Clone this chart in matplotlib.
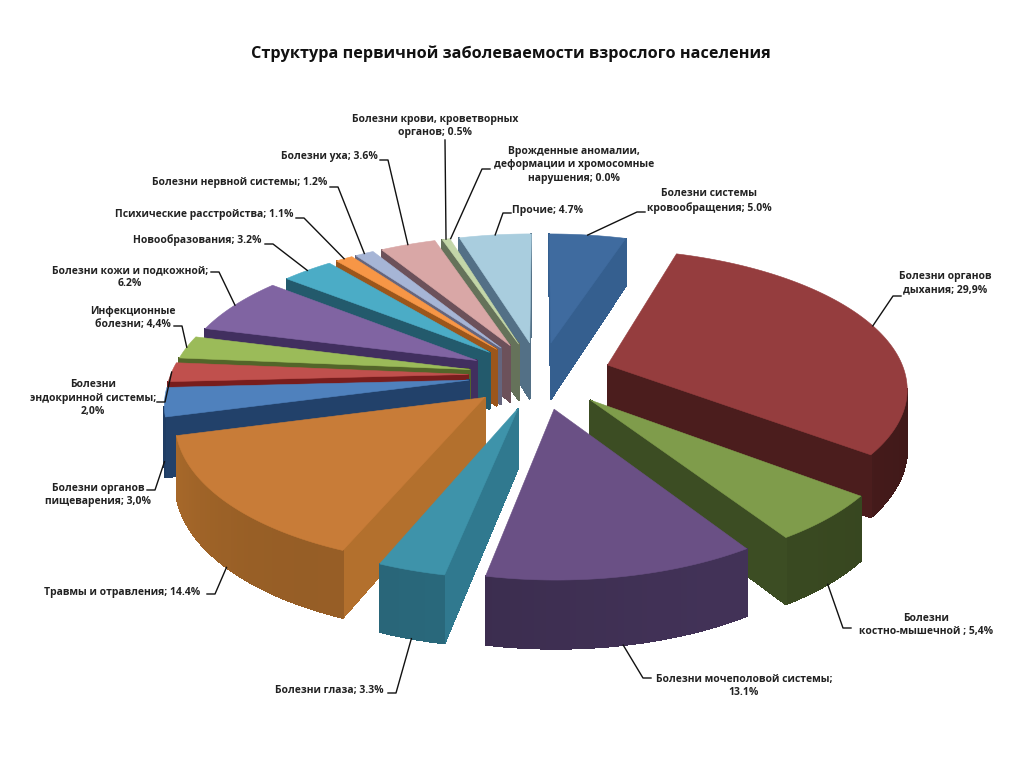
#!/usr/bin/env python3
"""Exploded perspective pie: structure of primary morbidity in adults."""
import numpy as np
import matplotlib

matplotlib.use("Agg")
import matplotlib.pyplot as plt
from matplotlib.patches import Polygon

plt.rcParams["font.family"] = ["Open Sans", "DejaVu Sans"]

# slice sizes in drawing order, clockwise from 12 o'clock
# (the infection slice is drawn far thinner than its 4,4% label, so 2.4 here)
shares = [5.0, 29.9, 5.4, 13.1, 3.3, 14.4, 3.0, 2.0, 2.4, 6.2, 3.2, 1.1, 1.2, 3.6, 0.5, 0.0, 4.7]
top_colors = ["#3F6B9F", "#953D3E", "#7F9C4B", "#6A5085", "#3E93AA", "#C87C38", "#4F81BD", "#C0504D",
              "#9BBB59", "#8064A2", "#4BACC6", "#F79646", "#A6B5D6", "#D9A7A6", "#C3D6A8", "#FFFFFF", "#A9CDDE"]
wall_colors = ["#2F5580", "#431A1A", "#36451F", "#3E2F52", "#2B6C80", "#A06428", "#1E3A5F", "#6B1A1A",
               "#4A5A25", "#3A2A55", "#1F5060", "#8A4D18", "#5A5A70", "#604850", "#5A6650", "#FFFFFF", "#4A6478"]

labels = ["Болезни системы\nкровообращения; 5.0%", "Болезни органов\nдыхания; 29,9%",
          "Болезни\nкостно-мышечной ; 5,4%", "Болезни мочеполовой системы;\n13.1%",
          "Болезни глаза; 3.3%", "Травмы и отравления; 14.4%",
          "Болезни органов\nпищеварения; 3,0%", "Болезни\nэндокринной системы;\n2,0%",
          "Инфекционные\nболезни; 4,4%", "Болезни кожи и подкожной;\n6.2%",
          "Новообразования; 3.2%", "Психические расстройства; 1.1%",
          "Болезни нервной системы; 1.2%", "Болезни уха; 3.6%",
          "Болезни крови, кроветворных\nорганов; 0.5%",
          "Врожденные аномалии,\nдеформации и хромосомные\nнарушения; 0.0%", "Прочие; 4.7%"]
# label centre x, y and the elbow where its leader line starts
label_pos = [(709, 201), (945, 283), (926, 625), (744, 686), (329, 691), (122, 592), (98, 495), (93, 398),
             (133, 318), (130, 277), (197, 240), (204, 215), (240, 183), (329, 156), (435, 126), (574, 165), (548, 210)]
elbows = [(637, 212), (893, 296), (843, 628), (643, 678), (396, 693), (215, 594), (155, 490), (165, 402),
          (182, 326), (219, 272), (273, 244), (304, 218), (338, 187), (388, 160), (445, 140), (482, 169), (503, 213)]
# 1 = leader ends at the foot of the outer wall
anchor_low = [0, 0, 1, 1, 1, 1, 1, 0, 0, 0, 0, 0, 0, 0, 0, 0, 0]

CX, CY = 540, 375
RX, RY = 298, 140
EXPLODE = 0.24
PERSP = 0.15
DEPTH = 58


def project(x, y, down=0.0):
    s = 1 + PERSP * y
    return CX + RX * x * s, CY + RY * y * s + down * DEPTH * s


def warp(a):
    # the original's 3D camera pulls the lower-left slices round a little
    lo, hi = np.radians(140), np.radians(320)
    return a - np.radians(4.0) * np.sin(np.pi * (np.clip(a, lo, hi) - lo) / (hi - lo)) ** 2


def shade(color, f):
    rgb = np.array(matplotlib.colors.to_rgb(color))
    return tuple(np.clip(rgb * f, 0, 1))


cum = warp(np.concatenate([[0], np.cumsum(shares)]) / sum(shares) * 2 * np.pi)
fig = plt.figure(figsize=(10.24, 7.68), dpi=100)
ax = fig.add_axes([0, 0, 1, 1])
ax.set_xlim(0, 1024)
ax.set_ylim(768, 0)
ax.axis("off")

order = sorted(range(len(shares)), key=lambda i: -np.cos((cum[i] + cum[i + 1]) / 2))
anchors = {}
for i in order:
    a0, a1, mid = cum[i], cum[i + 1], (cum[i] + cum[i + 1]) / 2
    ox, oy = EXPLODE * np.sin(mid), -EXPLODE * np.cos(mid)
    anchors[i] = project(ox + np.sin(mid), oy - np.cos(mid), anchor_low[i])
    if shares[i] == 0:
        continue
    th = np.linspace(a0, a1, max(2, int((a1 - a0) * 60)))
    xs = np.concatenate([[ox], ox + np.sin(th)])
    ys = np.concatenate([[oy], oy - np.cos(th)])
    top = np.array([project(x, y) for x, y in zip(xs, ys)])
    low = np.array([project(x, y, 1) for x, y in zip(xs, ys)])
    n = len(top)
    for j in range(n):
        k = (j + 1) % n
        quad = np.array([top[j], top[k], low[k], low[j]])
        area = np.sum(quad[:, 0] * np.roll(quad[:, 1], -1) - np.roll(quad[:, 0], -1) * quad[:, 1])
        if area >= 0:
            continue
        radial = j == 0 or j == n - 1
        if radial:
            col = shade(wall_colors[i], 1.12)
        else:
            t = (th[j - 1] + th[j]) / 2
            col = shade(wall_colors[i], 1.0 + 0.06 * np.sin(3 * t))
        ax.add_patch(Polygon(quad, closed=True, fc=col, ec=col, lw=0.6, antialiased=False, zorder=1))
    ax.add_patch(Polygon(top, closed=True, fc=top_colors[i], ec=top_colors[i], lw=0.4, zorder=1))

for i, txt in enumerate(labels):
    ax.text(*label_pos[i], txt, ha="center", va="center", fontsize=7.5, fontweight="bold",
            color="#222222", linespacing=1.3, zorder=5)
    ex, ey = elbows[i]
    px, py = anchors[i]
    tick = 0 if i == 14 else (8 if label_pos[i][0] > ex else -8)
    ax.plot([ex + tick, ex, px], [ey, ey, py], color="#111111", lw=1.0, zorder=4)

ax.text(511, 54, "Структура первичной заболеваемости взрослого населения", ha="center", va="center",
        fontsize=11.7, fontweight="bold", color="#111111")

fig.savefig("out.png", dpi=100)
